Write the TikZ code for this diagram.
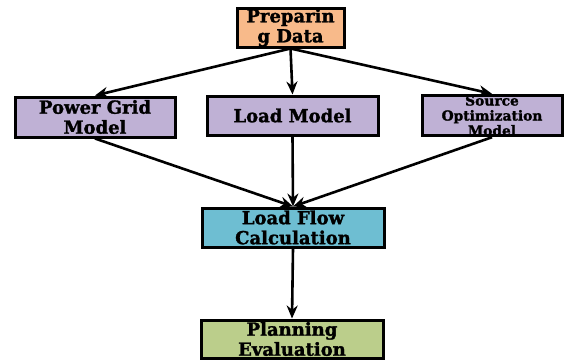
\documentclass[tikz,border=0pt]{standalone}
\usepackage{fontspec}
\setmainfont{DejaVu Serif}
\newfontfamily\heavy{DejaVu Serif}[FakeBold=1.5]
\usetikzlibrary{arrows.meta}
\definecolor{cpeach}{HTML}{F8BA8A}
\definecolor{clav}{HTML}{BFB1D5}
\definecolor{cblue}{HTML}{6EBED2}
\definecolor{cgreen}{HTML}{BBCE8B}
\tikzset{
  box/.style={draw=black, line width=3pt, inner sep=0pt, align=center,
    font=\heavy\fontsize{18}{20}\selectfont\bfseries},
  conn/.style={line width=2.6pt, -{Stealth[length=13pt,width=11pt]}},
}
\begin{document}
\begin{tikzpicture}[x=1pt,y=-1pt]
\useasboundingbox (0,0) rectangle (569,360);
\node[box, fill=cpeach, minimum width=107pt, minimum height=39pt] (prep) at (290.5,27.5) {Preparin\\g Data};
\node[box, fill=clav, minimum width=160pt, minimum height=40pt] (pg) at (95,117) {Power Grid\\Model};
\node[box, fill=clav, minimum width=171pt, minimum height=39pt] (lm) at (292.5,115.5) {Load Model};
\node[box, fill=clav, minimum width=140pt, minimum height=39pt, font=\heavy\fontsize{13.8}{15}\selectfont\bfseries] (so) at (492,115.5) {Source\\Optimization\\Model};
\node[box, fill=cblue, minimum width=182pt, minimum height=39pt] (lf) at (293,227.5) {Load Flow\\Calculation};
\node[box, fill=cgreen, minimum width=182pt, minimum height=38pt] (pe) at (292,339) {Planning\\Evaluation};
\draw[conn] (prep.south) -- (pg.north);
\draw[conn] (prep.south) -- (lm.north);
\draw[conn] (prep.south) -- (so.north);
\draw[conn] (pg.south) -- (lf.north);
\draw[conn] (lm.south) -- (lf.north);
\draw[conn] (so.south) -- (lf.north);
\draw[conn] (lf.south) -- (pe.north);
\end{tikzpicture}
\end{document}
